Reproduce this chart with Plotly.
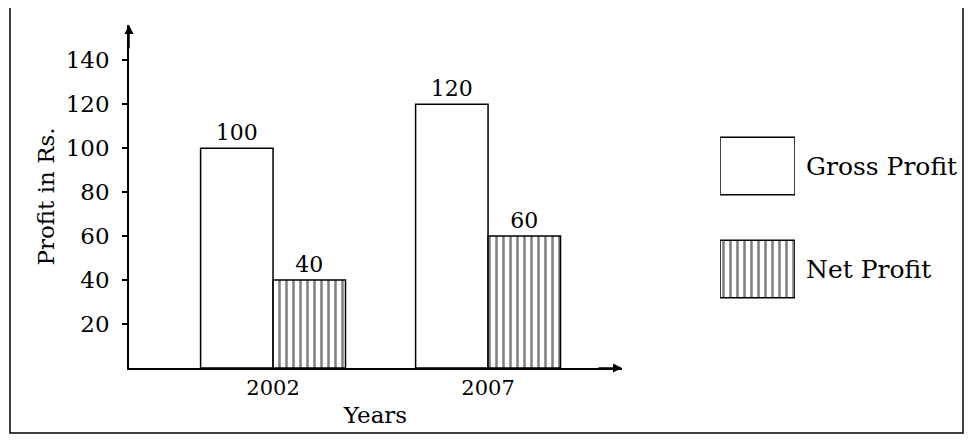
import plotly.graph_objects as go

# ---- data ----
years = ["2002", "2007"]
gross_profit = [100, 120]
net_profit = [40, 60]
y_ticks = [20, 40, 60, 80, 100, 120, 140]
series_names = ["Gross Profit", "Net Profit"]

# ---- geometry helpers (screen pixel -> paper) ----
# the page body adds an 8px margin, so the figure is made 8px smaller and all
# screen positions are shifted by that amount
O = 8
W, H = 973 - O, 444 - O
L, R, T, B = 129 - O, 10 - O, 25 - O, 76
PW = W - L - R
PH = H - T - B


def px(x):
    return (x - O - L) / PW


def py(y):
    return (H - B - (y - O)) / PH


FONT = "DejaVu Serif"
BLACK = "black"

plain = dict(color="white", line=dict(color=BLACK, width=1.5))
striped = dict(
    color="white",
    line=dict(color=BLACK, width=1.5),
    pattern=dict(shape="|", fgcolor=BLACK, bgcolor="white", size=7, solidity=0.36),
)

fig = go.Figure()

fig.add_trace(go.Bar(
    x=years, y=gross_profit, name=series_names[0], marker=plain,
    text=gross_profit, textposition="outside", cliponaxis=False,
    textfont=dict(family=FONT, size=22, color=BLACK),
    xaxis="x", yaxis="y", showlegend=False,
))
fig.add_trace(go.Bar(
    x=years, y=net_profit, name=series_names[1], marker=striped,
    text=net_profit, textposition="outside", cliponaxis=False,
    textfont=dict(family=FONT, size=22, color=BLACK),
    xaxis="x", yaxis="y", showlegend=False,
))

# ---- legend swatches drawn as bars on a small side subplot ----
for pos, name, mk in [(1, series_names[0], plain), (0, series_names[1], striped)]:
    fig.add_trace(go.Bar(
        x=[1], y=[pos], orientation="h", width=[0.56], offset=-0.28,
        marker=mk, xaxis="x2", yaxis="y2", showlegend=False,
        hoverinfo="skip", cliponaxis=False,
    ))
    fig.add_annotation(
        xref="x2 domain", yref="y2", x=1, y=pos, xanchor="left", yanchor="middle",
        xshift=9, text=name, showarrow=False,
        font=dict(family=FONT, size=25, color=BLACK),
    )

fig.update_layout(
    width=W, height=H,
    margin=dict(l=L, r=R, t=T, b=B, autoexpand=False),
    paper_bgcolor="white", plot_bgcolor="white",
    barmode="group", bargap=0.326, bargroupgap=0,
    font=dict(family=FONT, color=BLACK),
    xaxis=dict(
        domain=[0, px(622)], type="category", range=[-0.67, 1.623],
        showline=True, linecolor=BLACK, linewidth=1.5, ticks="",
        showgrid=False, zeroline=False,
        tickfont=dict(family=FONT, size=21, color=BLACK),
        title=dict(text="Years", font=dict(family=FONT, size=23, color=BLACK), standoff=8),
        anchor="y",
    ),
    yaxis=dict(
        domain=[0, 1], range=[0, 156],
        showline=True, linecolor=BLACK, linewidth=1.5,
        tickvals=y_ticks, ticks="outside", ticklen=5, tickwidth=1.5, tickcolor=BLACK,
        ticklabelstandoff=8,
        showgrid=False, zeroline=False,
        tickfont=dict(family=FONT, size=23, color=BLACK),
        title=dict(text="Profit in Rs.", font=dict(family=FONT, size=23, color=BLACK), standoff=5),
        anchor="x",
    ),
    yaxis3=dict(
        overlaying="y", range=[0, 156], tickvals=y_ticks, ticks="inside", ticklen=5,
        tickwidth=1.5, tickcolor=BLACK, showticklabels=False, showgrid=False,
        zeroline=False, showline=False, anchor="x", side="left",
    ),
    xaxis2=dict(
        domain=[px(720), px(795)], range=[0, 1], visible=False, anchor="y2",
        fixedrange=True,
    ),
    yaxis2=dict(
        domain=[py(320.5), py(114.5)], range=[-0.5, 1.5], visible=False, anchor="x2",
        fixedrange=True,
    ),
    shapes=[
        dict(type="rect", xref="paper", yref="paper",
             x0=px(10), x1=px(963), y0=py(433), y1=py(6),
             line=dict(color=BLACK, width=1.5), fillcolor="rgba(0,0,0,0)", layer="below"),
    ],
)

# axis arrowheads
fig.add_annotation(xref="paper", yref="paper", x=px(622), y=0, ax=-25, ay=0,
                   axref="pixel", ayref="pixel", text="", showarrow=True,
                   arrowhead=2, arrowsize=1.2, arrowwidth=1.5, arrowcolor=BLACK)
fig.add_annotation(xref="paper", yref="paper", x=0, y=1, ax=0, ay=25,
                   axref="pixel", ayref="pixel", text="", showarrow=True,
                   arrowhead=2, arrowsize=1.2, arrowwidth=1.5, arrowcolor=BLACK)

fig.write_html("out.html")
